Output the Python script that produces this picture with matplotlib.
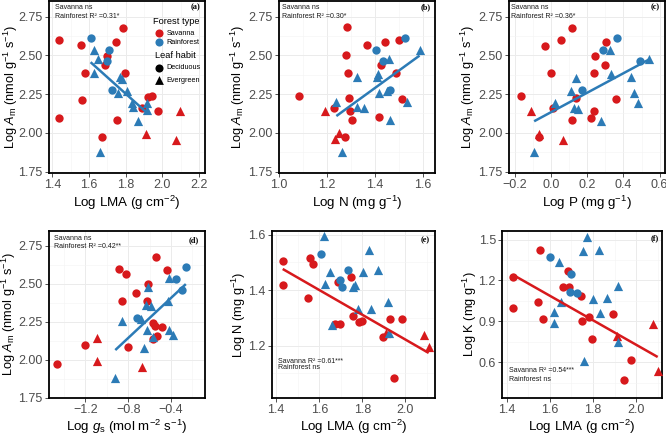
import matplotlib
matplotlib.use("Agg")
import matplotlib.pyplot as plt
import numpy as np
from matplotlib.ticker import AutoMinorLocator, FormatStrFormatter

plt.rcParams['font.family'] = ['Liberation Sans', 'DejaVu Sans']
plt.rcParams['mathtext.fontset'] = 'custom'
plt.rcParams['mathtext.rm'] = 'Liberation Sans'
plt.rcParams['mathtext.it'] = 'Liberation Sans:italic'

# group codes: S/R = savanna/rainforest, D/E = deciduous/evergreen
grp_std = ["SD"] * 16 + ["SE"] * 3 + ["RD"] * 4 + ["RE"] * 13

# (a) log LMA vs log Am
a_x = [1.438, 1.438, 1.555, 1.577, 1.564, 1.67, 1.687, 1.697, 1.748, 1.755, 1.786, 1.798, 1.891, 1.924, 1.942, 1.975,
       1.913, 2.073, 2.097,
       1.609, 1.708, 1.697, 1.727,
       1.627, 1.649, 1.627, 1.769, 1.78, 1.76, 1.806, 1.833, 1.839, 1.915, 1.918, 1.869, 1.66]
a_y = [2.596, 2.096, 2.564, 2.383, 2.214, 1.97, 2.439, 2.497, 2.589, 2.083, 2.677, 2.383, 2.159, 2.229, 2.238, 2.141,
       1.99, 1.951, 2.142,
       2.613, 2.536, 2.462, 2.275,
       2.536, 2.478, 2.383, 2.358, 2.35, 2.254, 2.267, 2.19, 2.165, 2.19, 2.147, 2.078, 1.875]

# (b) log N vs log Am
b_x = [1.283, 1.367, 1.443, 1.501, 1.279, 1.425, 1.286, 1.489, 1.085, 1.293, 1.512, 1.228, 1.294, 1.304, 1.415, 1.276,
       1.19, 1.248, 1.235,
       1.526, 1.405, 1.433, 1.464,
       1.586, 1.458, 1.412, 1.41, 1.325, 1.415, 1.533, 1.239, 1.325, 1.355, 1.464, 1.262, 1.452]
b_y = [2.681, 2.564, 2.589, 2.596, 2.499, 2.439, 2.386, 2.388, 2.24, 2.227, 2.215, 2.157, 2.141, 2.082, 2.099, 1.974,
       2.141, 1.996, 1.958,
       2.613, 2.536, 2.461, 2.279,
       2.536, 2.476, 2.382, 2.36, 2.36, 2.257, 2.2, 2.2, 2.167, 2.157, 2.082, 1.878, 2.27]

# (c) log P vs log Am
c_x = [0.116, -0.035, 0.057, 0.306, 0.245, 0.297, -0.002, 0.236, -0.167, 0.137, 0.357, 0.008, 0.236, 0.116, 0.223, -0.066,
       -0.114, -0.066, 0.063,
       0.367, 0.287, 0.494, 0.168,
       0.328, 0.541, 0.14, 0.33, 0.44, 0.109, 0.024, 0.127, 0.149, 0.457, 0.481, 0.278, -0.094]
c_y = [2.677, 2.562, 2.596, 2.589, 2.497, 2.439, 2.386, 2.386, 2.24, 2.227, 2.215, 2.157, 2.141, 2.082, 2.096, 1.974,
       2.141, 1.992, 1.953,
       2.61, 2.532, 2.461, 2.279,
       2.536, 2.474, 2.356, 2.382, 2.36, 2.27, 2.193, 2.163, 2.152, 2.257, 2.195, 2.077, 1.874]

# (d) log gs vs log Am
d_x = [-0.884, -0.824, -0.441, -0.541, -0.616, -0.728, -0.856, -0.628, -0.566, -0.55, -0.488, -0.535, -0.566, -0.8, -1.205, -1.463,
       -1.09, -1.09, -0.675,
       -0.261, -0.354, -0.298, -0.721,
       -0.423, -0.616, -0.43, -0.637, -0.585, -0.856, -0.684, -0.622, -0.42, -0.385, -0.566, -0.653, -0.921]
d_y = [2.598, 2.561, 2.587, 2.677, 2.499, 2.439, 2.383, 2.383, 2.239, 2.222, 2.212, 2.158, 2.136, 2.083, 2.093, 1.971,
       2.143, 1.993, 1.954,
       2.611, 2.529, 2.46, 2.276,
       2.538, 2.476, 2.383, 2.357, 2.353, 2.254, 2.267, 2.196, 2.196, 2.16, 2.147, 2.078, 1.877]

# (e) log LMA vs log N
e_x = [1.43, 1.43, 1.557, 1.573, 1.547, 1.686, 1.747, 1.756, 1.674, 1.697, 1.785, 1.8, 1.927, 1.984, 1.894, 1.948,
       2.085, 2.108, 1.91,
       1.607, 1.731, 1.694, 1.705,
       1.624, 1.832, 1.65, 1.805, 1.872, 1.627, 1.764, 1.758, 1.779, 1.838, 1.919, 1.661, 1.922]
e_y = [1.506, 1.418, 1.515, 1.494, 1.371, 1.43, 1.447, 1.306, 1.28, 1.28, 1.286, 1.289, 1.297, 1.297, 1.233, 1.085,
       1.239, 1.194, 1.245,
       1.532, 1.473, 1.438, 1.41,
       1.594, 1.544, 1.465, 1.465, 1.473, 1.421, 1.418, 1.412, 1.332, 1.332, 1.359, 1.273, 1.245]

# (f) log LMA vs log K
f_x = [1.43, 1.429, 1.556, 1.544, 1.569, 1.683, 1.661, 1.691, 1.745, 1.783, 1.749, 1.796, 1.892, 1.976, 1.944,
       2.077, 2.1, 1.911,
       1.603, 1.7, 1.692, 1.726,
       1.774, 1.754, 1.828, 1.644, 1.916, 1.8, 1.865, 1.654, 1.621, 1.834, 1.621, 1.916, 1.757]
f_y = [1.225, 0.997, 1.424, 1.041, 0.919, 1.273, 1.153, 1.153, 1.086, 0.933, 0.902, 0.775, 0.954, 0.62, 0.469,
       0.878, 0.538, 0.794,
       1.374, 1.249, 1.117, 1.11,
       1.517, 1.417, 1.421, 1.338, 1.158, 1.062, 1.074, 1.046, 0.967, 0.962, 0.89, 0.746, 0.61]
f_grp = ["SD"] * 15 + ["SE"] * 3 + ["RD"] * 4 + ["RE"] * 13

RED = '#D7191C'
BLUE = '#2C7BB6'
style = {'SD': (RED, 'o', 36), 'SE': (RED, '^', 44), 'RD': (BLUE, 'o', 36), 'RE': (BLUE, '^', 44)}

am_label = r'Log $A_\mathrm{m}$ (nmol g$^{-1}$ s$^{-1}$)'
lma_label = r'Log LMA (g cm$^{-2}$)'


def panel(rect, x, y, grp, fit, xlim, ylim, xticks, yticks, yfmt, xlabel, ylabel, ylab_x, tag, tagpos, notes, notepos):
    ax = fig.add_axes(rect)
    x = np.array(x)
    y = np.array(y)
    grp = np.array(grp)
    for g in ['SD', 'SE', 'RD', 'RE']:
        m = grp == g
        color, marker, s = style[g]
        ax.scatter(x[m], y[m], c=color, marker=marker, s=s, linewidths=0, zorder=3)
    # lm fit for the significant forest type
    m = np.char.startswith(grp, fit)
    k, b = np.polyfit(x[m], y[m], 1)
    xs = np.array([x[m].min(), x[m].max()])
    ax.plot(xs, k * xs + b, color=RED if fit == 'S' else BLUE, lw=1.8, zorder=4, solid_capstyle='butt')

    ax.set_xlim(xlim)
    ax.set_ylim(ylim)
    ax.set_xticks(xticks)
    ax.set_yticks(yticks)
    ax.yaxis.set_major_formatter(FormatStrFormatter(yfmt))
    ax.xaxis.set_minor_locator(AutoMinorLocator(2))
    ax.yaxis.set_minor_locator(AutoMinorLocator(2))
    ax.grid(which='major', color='#EBEBEB', lw=0.7)
    ax.grid(which='minor', color='#F3F3F3', lw=0.4)
    ax.set_axisbelow(True)
    for sp in ax.spines.values():
        sp.set_linewidth(1.3)
        sp.set_color('black')
    ax.tick_params(which='major', direction='out', length=3, width=0.6, color='#333333',
                   labelcolor='#4D4D4D', labelsize=9, pad=1.5)
    ax.tick_params(which='minor', length=0)
    ax.set_xlabel(xlabel, fontsize=9.6)
    ax.set_ylabel(ylabel, fontsize=9.2)
    ax.xaxis.set_label_coords(0.5, -0.175)
    ax.yaxis.set_label_coords(ylab_x, 0.5)
    ax.xaxis.label.set_va('center')
    ax.yaxis.label.set_va('center')

    ax.text(tagpos[0], tagpos[1], tag, transform=ax.transAxes, ha='right', va='center',
            family='Liberation Serif', weight='bold', fontsize=6)
    for txt, (tx, ty) in zip(notes, notepos):
        ax.text(tx, ty, txt, transform=ax.transAxes, ha='left', va='center', fontsize=5, color='#1A1A1A')
    return ax


fig = plt.figure(figsize=(6.66, 4.36), dpi=100)

top = [0.603, 0.3945]
bot = [0.088, 0.382]

ax_a = panel([0.0736, top[0], 0.234, top[1]], a_x, a_y, grp_std, 'R', (1.382, 2.233), (1.74, 2.85),
             [1.4, 1.6, 1.8, 2.0, 2.2], [1.75, 2.0, 2.25, 2.5, 2.75], '%.2f', lma_label, am_label, -0.245,
             '(a)', (0.971, 0.963), ['Savanna ns', 'Rainforest R² =0.31*'], [(0.038, 0.965), (0.038, 0.912)])

panel([0.419, top[0], 0.234, top[1]], b_x, b_y, grp_std, 'R', (1.0, 1.65), (1.74, 2.85),
      [1.0, 1.2, 1.4, 1.6], [1.75, 2.0, 2.25, 2.5, 2.75], '%.2f', r'Log N (mg g$^{-1}$)', am_label, -0.265,
      '(b)', (0.971, 0.963), ['Savanna ns', 'Rainforest R² =0.30*'], [(0.02, 0.965), (0.02, 0.912)])

panel([0.764, top[0], 0.234, top[1]], c_x, c_y, grp_std, 'R', (-0.234, 0.628), (1.74, 2.85),
      [-0.2, 0.0, 0.2, 0.4, 0.6], [1.75, 2.0, 2.25, 2.5, 2.75], '%.2f', r'Log P (mg g$^{-1}$)', am_label, -0.265,
      '(c)', (0.971, 0.963), ['Savanna ns', 'Rainforest R² =0.36*'], [(0.015, 0.965), (0.015, 0.912)])

panel([0.0736, bot[0], 0.234, bot[1]], d_x, d_y, grp_std, 'R', (-1.541, -0.083), (1.75, 2.845),
      [-1.2, -0.8, -0.4], [1.75, 2.0, 2.25, 2.5, 2.75], '%.2f',
      r'Log $g_\mathrm{s}$ (mol m$^{-2}$ s$^{-1}$)', am_label, -0.26,
      '(d)', (0.963, 0.943), ['Savanna ns', 'Rainforest R² =0.42**'], [(0.032, 0.955), (0.032, 0.905)])

panel([0.408, bot[0], 0.245, bot[1]], e_x, e_y, grp_std, 'S', (1.379, 2.137), (1.013, 1.613),
      [1.4, 1.6, 1.8, 2.0], [1.2, 1.4, 1.6], '%.1f', lma_label, r'Log N (mg g$^{-1}$)', -0.2,
      '(e)', (0.971, 0.943), ['Savanna R² =0.61***', 'Rainforest ns'], [(0.041, 0.219), (0.041, 0.178)])

panel([0.754, bot[0], 0.240, bot[1]], f_x, f_y, f_grp, 'S', (1.379, 2.12), (0.342, 1.562),
      [1.4, 1.6, 1.8, 2.0], [0.6, 0.9, 1.2, 1.5], '%.1f', lma_label, r'Log K (mg g$^{-1}$)', -0.2,
      '(f)', (0.98, 0.96), ['Savanna R² =0.54***', 'Rainforest ns'], [(0.044, 0.163), (0.044, 0.11)])

# legend drawn inside panel (a)
tr = ax_a.transAxes
ax_a.text(0.669, 0.884, 'Forest type', transform=tr, fontsize=6.7, va='center', ha='left')
ax_a.scatter([0.707], [0.812], transform=tr, c=RED, s=34, linewidths=0, clip_on=False, zorder=5)
ax_a.text(0.754, 0.812, 'Savanna', transform=tr, fontsize=5.2, va='center', ha='left')
ax_a.scatter([0.707], [0.76], transform=tr, c=BLUE, s=34, linewidths=0, clip_on=False, zorder=5)
ax_a.text(0.754, 0.76, 'Rainforest', transform=tr, fontsize=5.2, va='center', ha='left')
ax_a.text(0.68, 0.686, 'Leaf habit', transform=tr, fontsize=6.7, va='center', ha='left')
ax_a.scatter([0.707], [0.612], transform=tr, c='black', marker='o', s=34, linewidths=0, clip_on=False, zorder=5)
ax_a.text(0.754, 0.612, 'Deciduous', transform=tr, fontsize=5.2, va='center', ha='left')
ax_a.scatter([0.707], [0.541], transform=tr, c='black', marker='^', s=40, linewidths=0, clip_on=False, zorder=5)
ax_a.text(0.754, 0.541, 'Evergreen', transform=tr, fontsize=5.2, va='center', ha='left')

fig.savefig('out.png', dpi=100)
